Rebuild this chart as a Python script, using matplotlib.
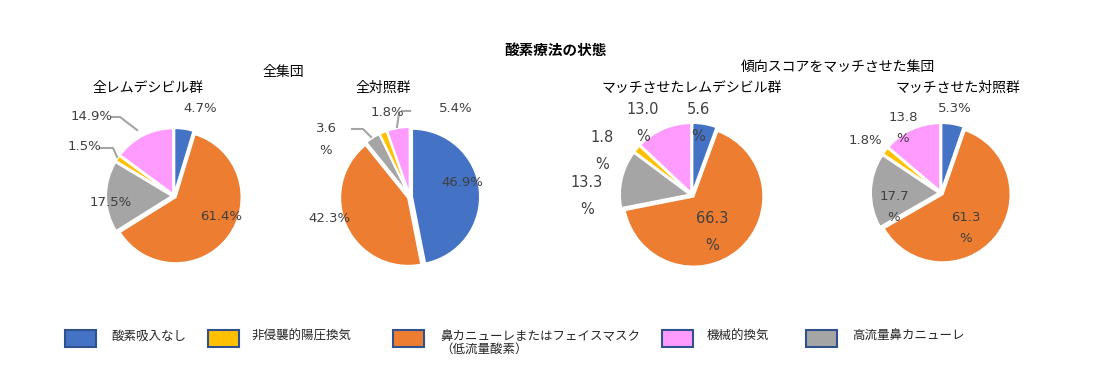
import matplotlib.pyplot as plt
from matplotlib.patches import Rectangle

plt.rcParams['font.family'] = ['Noto Sans CJK JP', 'DejaVu Sans']

# categories in pie order (clockwise from 12 o'clock)
categories = ['酸素吸入なし', '鼻カニューレまたはフェイスマスク\n（低流量酸素）', '高流量鼻カニューレ',
              '非侵襲的陽圧換気', '機械的換気']
colors = ['#4472C4', '#ED7D31', '#A5A5A5', '#FFC000', '#FF9BFF']

# legend order as in the picture
legend_order = [0, 3, 1, 4, 2]

all_remdesivir = [4.7, 61.4, 17.5, 1.5, 14.9]
all_control = [46.9, 42.3, 3.6, 1.8, 5.4]
matched_remdesivir = [5.6, 66.3, 13.3, 1.8, 13.0]
matched_control = [5.3, 61.3, 17.7, 1.8, 13.8]

pie_titles = ['全レムデシビル群', '全対照群', 'マッチさせたレムデシビル群', 'マッチさせた対照群']
group_titles = ['全集団', '傾向スコアをマッチさせた集団']
main_title = '酸素療法の状態'

W, H = 1105, 379
fig = plt.figure(figsize=(W / 100, H / 100), dpi=100)


def px_axes(cx, cy, r):
    ax = fig.add_axes([(cx - 2 * r) / W, (H - cy - 2 * r) / H, 4 * r / W, 4 * r / H])
    return ax


# layout: pie centre/radius, label pixel positions, split label flags, font size
pies = [
    dict(vals=all_remdesivir, c=(174, 196), r=66, fs=9.5,
         pos=[(200, 109), (221, 217), (111, 203), (84, 147), (92, 116)],
         split=[False] * 5, gap=0,
         lines=[None, None, None, [(100, 148), (113, 148), (117, 157)],
                [(112, 117), (120, 117), (137, 130)]]),
    dict(vals=all_control, c=(410, 197), r=68, fs=9.5,
         pos=[(462, 182), (329, 219), (326, 140), (387, 112), (456, 108)],
         split=[False, False, True, False, False], gap=1.9,
         lines=[None, None, [(352, 129), (363, 129), (371, 137)],
                [(402, 111), (410, 111)], [(399, 113), (397, 127)]]),
    dict(vals=matched_remdesivir, c=(692, 195), r=70, fs=10.5,
         pos=[(698, 123), (712, 232), (587, 196), (602, 151), (643, 123)],
         split=[True] * 5, gap=2.0,
         lines=[None] * 5),
    dict(vals=matched_control, c=(941, 193), r=68, fs=9.5,
         pos=[(955, 109), (966, 228), (894, 207), (865, 141), (903, 128)],
         split=[False, True, True, False, True], gap=1.8,
         lines=[None] * 5),
]

for p, title in zip(pies, pie_titles):
    cx, cy = p['c']
    r = p['r']
    ax = px_axes(cx, cy, r)
    ax.pie(p['vals'], colors=colors, startangle=90, counterclock=False,
           explode=[0.03] * 5, wedgeprops=dict(edgecolor='white', linewidth=1.5))
    ax.set_xlim(-2, 2)
    ax.set_ylim(-2, 2)
    ax.set_aspect('equal')
    ax.axis('off')
    for v, (x, y), sp, ln in zip(p['vals'], p['pos'], p['split'], p['lines']):
        txt = f'{v:.1f}\n%' if sp else f'{v:.1f}%'
        ax.text((x - cx) / r, (cy - y) / r, txt, ha='center', va='center',
                fontsize=p['fs'], color='#404040', linespacing=p['gap'] if sp else 1.2,
                family=['DejaVu Sans'])
        if ln:
            ax.plot([(a - cx) / r for a, b in ln], [(cy - b) / r for a, b in ln],
                    color='#A5A5A5', lw=1.5, clip_on=False)

# titles
fig.text(555 / W, 1 - 50 / H, main_title, ha='center', va='center', fontsize=10.5, fontweight='bold')
fig.text(283 / W, 1 - 72 / H, group_titles[0], ha='center', va='center', fontsize=10)
fig.text(838 / W, 1 - 67 / H, group_titles[1], ha='center', va='center', fontsize=10)
for (x, y), t in zip([(148, 88), (383, 88), (692, 88), (958, 88)], pie_titles):
    fig.text(x / W, 1 - y / H, t, ha='center', va='center', fontsize=10)

# legend
box_x = [65, 208, 393, 662, 806]
text_x = [111, 252, 440, 707, 852]
for bx, tx, i in zip(box_x, text_x, legend_order):
    fig.patches.append(Rectangle((bx / W, 1 - 347 / H), 31 / W, 17 / H, transform=fig.transFigure,
                                 facecolor=colors[i], edgecolor='#2F528F', linewidth=1.5))
    fig.text(tx / W, 1 - 330 / H, categories[i], ha='left', va='top', fontsize=9,
             color='#262626', linespacing=1.0)

fig.savefig('out.png', dpi=100)
